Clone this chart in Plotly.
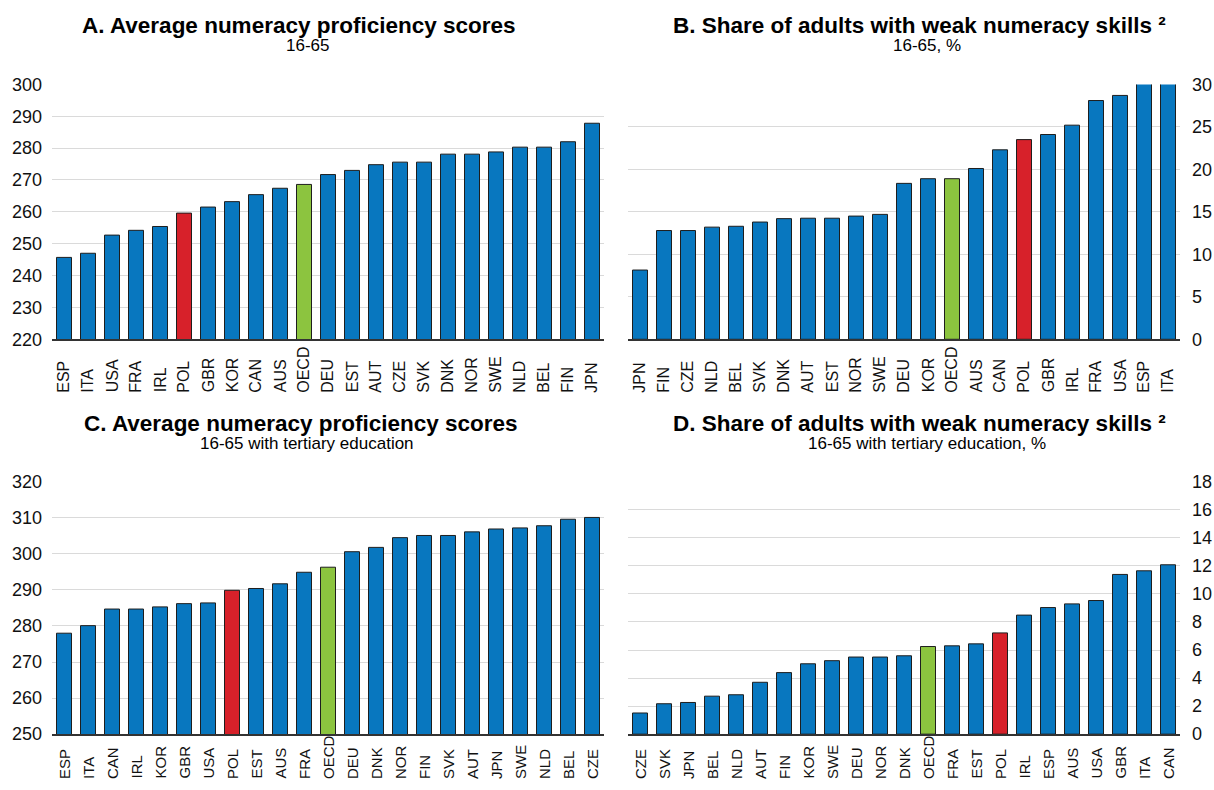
import plotly.graph_objects as go

# Panel A: average numeracy proficiency scores, 16-65
a_countries = ["ESP","ITA","USA","FRA","IRL","POL","GBR","KOR","CAN","AUS","OECD","DEU",
               "EST","AUT","CZE","SVK","DNK","NOR","SWE","NLD","BEL","FIN","JPN"]
a_values = [245.7,247.0,252.7,254.2,255.4,259.6,261.5,263.2,265.4,267.4,268.6,271.7,
            273.0,274.8,275.6,275.6,278.1,278.1,278.8,280.3,280.3,282.0,287.8]

# Panel B: share of adults with weak numeracy skills, 16-65, %
b_countries = ["JPN","FIN","CZE","NLD","BEL","SVK","DNK","AUT","EST","NOR","SWE","DEU",
               "KOR","OECD","AUS","CAN","POL","GBR","IRL","FRA","USA","ESP","ITA"]
b_values = [8.15,12.8,12.8,13.2,13.3,13.8,14.2,14.25,14.25,14.5,14.7,18.35,
            18.9,18.9,20.1,22.3,23.5,24.1,25.2,28.1,28.7,31.0,31.5]

# Panel C: average numeracy proficiency scores, 16-65 with tertiary education
c_countries = ["ESP","ITA","CAN","IRL","KOR","GBR","USA","POL","EST","AUS","FRA","OECD",
               "DEU","DNK","NOR","FIN","SVK","AUT","JPN","SWE","NLD","BEL","CZE"]
c_values = [278.0,280.1,284.7,284.7,285.3,286.2,286.4,289.9,290.4,291.7,294.9,296.3,
            300.6,301.8,304.5,305.1,305.1,306.1,306.9,307.2,307.8,309.6,310.1]

# Panel D: share of adults with weak numeracy skills, 16-65 with tertiary education, %
d_countries = ["CZE","SVK","JPN","BEL","NLD","AUT","FIN","KOR","SWE","DEU","NOR","DNK",
               "OECD","FRA","EST","POL","IRL","ESP","AUS","USA","GBR","ITA","CAN"]
d_values = [1.51,2.17,2.26,2.71,2.81,3.70,4.39,5.02,5.24,5.50,5.50,5.59,
            6.25,6.30,6.44,7.22,8.49,9.03,9.29,9.53,11.39,11.65,12.08]

titles = ["A. Average numeracy proficiency scores",
          "B. Share of adults with weak numeracy skills ²",
          "C. Average numeracy proficiency scores",
          "D. Share of adults with weak numeracy skills ²"]
subtitles = ["16-65", "16-65, %", "16-65 with tertiary education", "16-65 with tertiary education, %"]

BLUE = "#0877bf"
RED = "#d7212a"
GREEN = "#8cc43f"
FONT = "Liberation Sans, Arial, Helvetica, sans-serif"

def colors(cats):
    return [RED if c == "POL" else GREEN if c == "OECD" else BLUE for c in cats]

W, H = 1214, 790

def py(v):
    # vertical layout position (px from top)
    return (v - 9.6) / 0.975

fig = go.Figure()

# (categories, values, xaxis, yaxis, x span, y span, y range, dtick, side, label bottom, label size)
panels = [
    (a_countries, a_values, "x", "y", (52, 604), (py(84), py(339)), [220, 300], 10, "left", py(393.5), 16),
    (b_countries, b_values, "x2", "y2", (628, 1180), (py(84), py(339)), [0, 30], 5, "right", py(393.5), 16),
    (c_countries, c_values, "x3", "y3", (52, 604), (py(481.5), py(734)), [250, 320], 10, "left", 790, 15),
    (d_countries, d_values, "x4", "y4", (628, 1180), (py(481.5), py(734)), [0, 18], 2, "right", 790, 15),
]

layout = {}
ann = []
for i, (cats, vals, xa, ya, xd, yd, yr, dt, side, lab_b, lab_s) in enumerate(panels):
    fig.add_trace(go.Bar(
        x=cats, y=vals, xaxis=xa, yaxis=ya,
        marker=dict(color=colors(cats), line=dict(color="#1e1e1e", width=1)),
        width=0.625, showlegend=False,
    ))
    xkey = "xaxis" if i == 0 else f"xaxis{i+1}"
    ykey = "yaxis" if i == 0 else f"yaxis{i+1}"
    layout[xkey] = dict(
        domain=[xd[0] / W, xd[1] / W], anchor=ya,
        showticklabels=False, showline=True, linecolor="#333333", linewidth=2, ticks="",
        showgrid=False, range=[-0.5, 22.5], type="category",
    )
    layout[ykey] = dict(
        domain=[1 - yd[1] / H, 1 - yd[0] / H], anchor=xa, side=side,
        range=yr, dtick=dt, tick0=yr[0],
        tickfont=dict(family=FONT, size=18, color="#111"),
        showgrid=True, gridcolor="#dadada", gridwidth=1.2, zeroline=False,
        showline=False, ticks="", ticklabelstandoff=9 if side == "left" else 11,
    )
    for c in cats:
        ann.append(dict(text=c, x=c, xref=xa, y=1 - lab_b / H, yref="paper",
                        textangle=-90, showarrow=False, xanchor="center", yanchor="bottom",
                        borderpad=0, font=dict(family=FONT, size=lab_s, color="#111")))

title_pos = [(299, 25, 307, 45.5), (919, 25, 927, 45.5), (301, 423, 307, 443), (919, 423, 927, 443)]
for t, s, (tx, ty, sx, sy) in zip(titles, subtitles, title_pos):
    ann.append(dict(text=f"<b>{t}</b>", x=tx / W, y=1 - py(ty) / H, xref="paper", yref="paper",
                    showarrow=False, xanchor="center", yanchor="middle",
                    font=dict(family=FONT, size=22.5, color="#000")))
    ann.append(dict(text=s, x=sx / W, y=1 - py(sy) / H, xref="paper", yref="paper",
                    showarrow=False, xanchor="center", yanchor="middle",
                    font=dict(family=FONT, size=17, color="#000")))

fig.update_layout(
    width=W, height=H, margin=dict(l=0, r=0, t=0, b=0),
    paper_bgcolor="white", plot_bgcolor="white",
    annotations=ann, **layout,
)

fig.write_html("out.html", config={"displayModeBar": False},
               post_script="document.body.style.margin='0';")
